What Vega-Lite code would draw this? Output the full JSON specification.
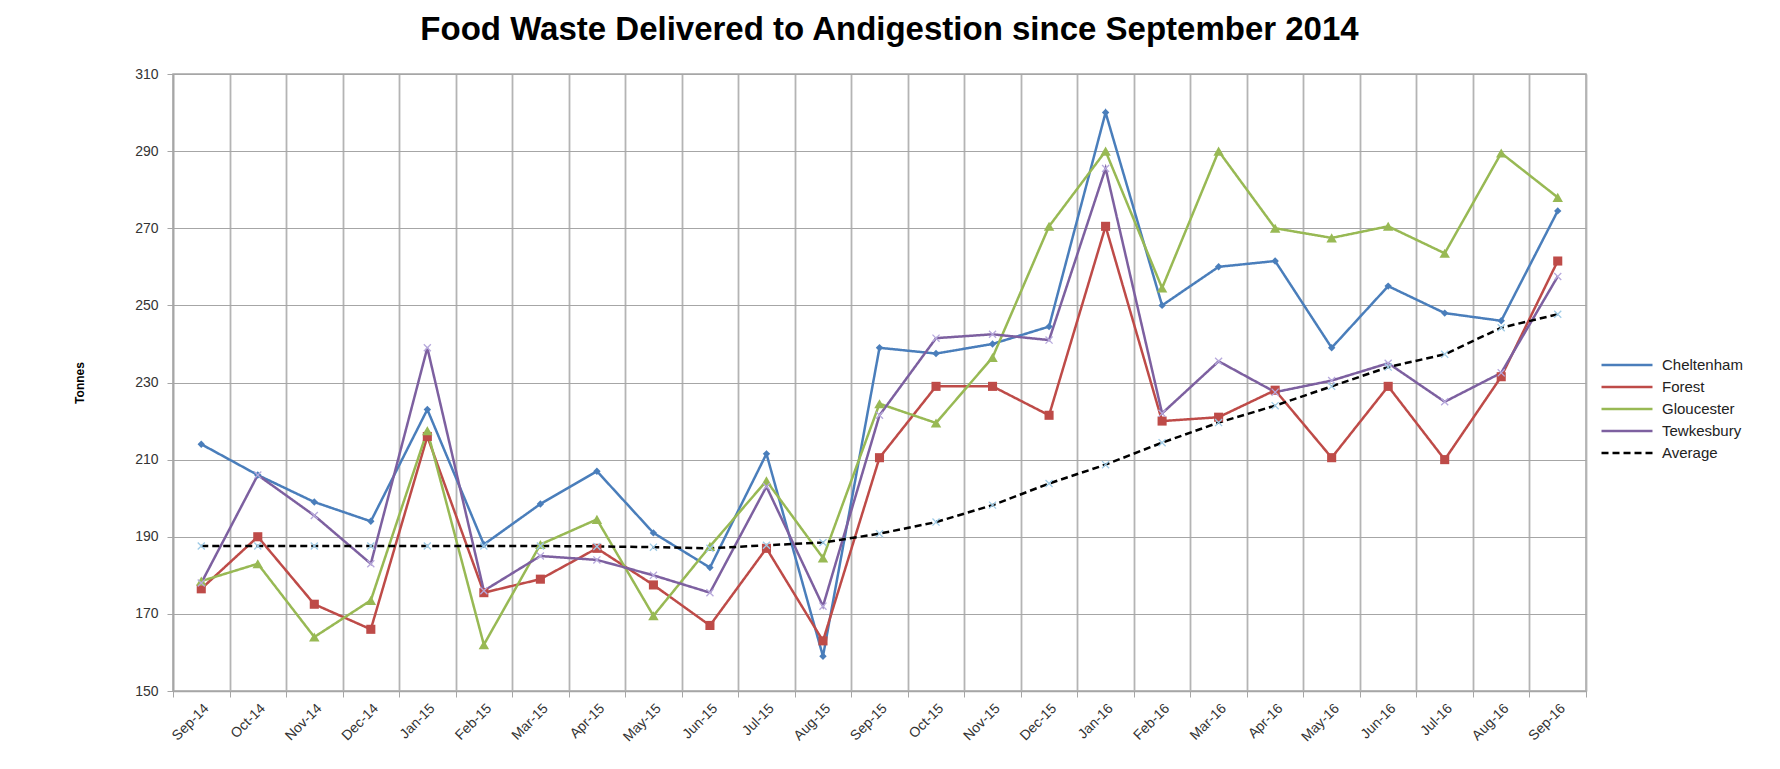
{
  "$schema": "https://vega.github.io/schema/vega-lite/v6.json",
  "width": 1413,
  "height": 617,
  "autosize": {"type": "none"},
  "padding": {"left": 173, "top": 74, "right": 194, "bottom": 78},
  "background": "white",
  "config": {"view": {"stroke": "#a6a6a6", "strokeWidth": 1.5}, "font": "Liberation Sans"},
  "title": {"text": "Food Waste Delivered to Andigestion since September 2014", "font": "Liberation Sans", "fontSize": 33, "fontWeight": "bold", "color": "#000000", "anchor": "middle", "offset": 20, "dx": 10},
  "data": {"values": [
    {"month": "Sep-14", "series": "Cheltenham", "tonnes": 214},
    {"month": "Oct-14", "series": "Cheltenham", "tonnes": 206},
    {"month": "Nov-14", "series": "Cheltenham", "tonnes": 199},
    {"month": "Dec-14", "series": "Cheltenham", "tonnes": 194},
    {"month": "Jan-15", "series": "Cheltenham", "tonnes": 223},
    {"month": "Feb-15", "series": "Cheltenham", "tonnes": 188},
    {"month": "Mar-15", "series": "Cheltenham", "tonnes": 198.5},
    {"month": "Apr-15", "series": "Cheltenham", "tonnes": 207},
    {"month": "May-15", "series": "Cheltenham", "tonnes": 191},
    {"month": "Jun-15", "series": "Cheltenham", "tonnes": 182},
    {"month": "Jul-15", "series": "Cheltenham", "tonnes": 211.5},
    {"month": "Aug-15", "series": "Cheltenham", "tonnes": 159},
    {"month": "Sep-15", "series": "Cheltenham", "tonnes": 239},
    {"month": "Oct-15", "series": "Cheltenham", "tonnes": 237.5},
    {"month": "Nov-15", "series": "Cheltenham", "tonnes": 240},
    {"month": "Dec-15", "series": "Cheltenham", "tonnes": 244.5},
    {"month": "Jan-16", "series": "Cheltenham", "tonnes": 300},
    {"month": "Feb-16", "series": "Cheltenham", "tonnes": 250},
    {"month": "Mar-16", "series": "Cheltenham", "tonnes": 260},
    {"month": "Apr-16", "series": "Cheltenham", "tonnes": 261.5},
    {"month": "May-16", "series": "Cheltenham", "tonnes": 239},
    {"month": "Jun-16", "series": "Cheltenham", "tonnes": 255},
    {"month": "Jul-16", "series": "Cheltenham", "tonnes": 248},
    {"month": "Aug-16", "series": "Cheltenham", "tonnes": 246},
    {"month": "Sep-16", "series": "Cheltenham", "tonnes": 274.5},
    {"month": "Sep-14", "series": "Forest", "tonnes": 176.5},
    {"month": "Oct-14", "series": "Forest", "tonnes": 190},
    {"month": "Nov-14", "series": "Forest", "tonnes": 172.5},
    {"month": "Dec-14", "series": "Forest", "tonnes": 166},
    {"month": "Jan-15", "series": "Forest", "tonnes": 216},
    {"month": "Feb-15", "series": "Forest", "tonnes": 175.5},
    {"month": "Mar-15", "series": "Forest", "tonnes": 179},
    {"month": "Apr-15", "series": "Forest", "tonnes": 187},
    {"month": "May-15", "series": "Forest", "tonnes": 177.5},
    {"month": "Jun-15", "series": "Forest", "tonnes": 167},
    {"month": "Jul-15", "series": "Forest", "tonnes": 187},
    {"month": "Aug-15", "series": "Forest", "tonnes": 163},
    {"month": "Sep-15", "series": "Forest", "tonnes": 210.5},
    {"month": "Oct-15", "series": "Forest", "tonnes": 229},
    {"month": "Nov-15", "series": "Forest", "tonnes": 229},
    {"month": "Dec-15", "series": "Forest", "tonnes": 221.5},
    {"month": "Jan-16", "series": "Forest", "tonnes": 270.5},
    {"month": "Feb-16", "series": "Forest", "tonnes": 220},
    {"month": "Mar-16", "series": "Forest", "tonnes": 221},
    {"month": "Apr-16", "series": "Forest", "tonnes": 228},
    {"month": "May-16", "series": "Forest", "tonnes": 210.5},
    {"month": "Jun-16", "series": "Forest", "tonnes": 229},
    {"month": "Jul-16", "series": "Forest", "tonnes": 210},
    {"month": "Aug-16", "series": "Forest", "tonnes": 231.5},
    {"month": "Sep-16", "series": "Forest", "tonnes": 261.5},
    {"month": "Sep-14", "series": "Gloucester", "tonnes": 178.5},
    {"month": "Oct-14", "series": "Gloucester", "tonnes": 183},
    {"month": "Nov-14", "series": "Gloucester", "tonnes": 164},
    {"month": "Dec-14", "series": "Gloucester", "tonnes": 173.5},
    {"month": "Jan-15", "series": "Gloucester", "tonnes": 217.5},
    {"month": "Feb-15", "series": "Gloucester", "tonnes": 162},
    {"month": "Mar-15", "series": "Gloucester", "tonnes": 188},
    {"month": "Apr-15", "series": "Gloucester", "tonnes": 194.5},
    {"month": "May-15", "series": "Gloucester", "tonnes": 169.5},
    {"month": "Jun-15", "series": "Gloucester", "tonnes": 187.5},
    {"month": "Jul-15", "series": "Gloucester", "tonnes": 204.5},
    {"month": "Aug-15", "series": "Gloucester", "tonnes": 184.5},
    {"month": "Sep-15", "series": "Gloucester", "tonnes": 224.5},
    {"month": "Oct-15", "series": "Gloucester", "tonnes": 219.5},
    {"month": "Nov-15", "series": "Gloucester", "tonnes": 236.5},
    {"month": "Dec-15", "series": "Gloucester", "tonnes": 270.5},
    {"month": "Jan-16", "series": "Gloucester", "tonnes": 290},
    {"month": "Feb-16", "series": "Gloucester", "tonnes": 254.5},
    {"month": "Mar-16", "series": "Gloucester", "tonnes": 290},
    {"month": "Apr-16", "series": "Gloucester", "tonnes": 270},
    {"month": "May-16", "series": "Gloucester", "tonnes": 267.5},
    {"month": "Jun-16", "series": "Gloucester", "tonnes": 270.5},
    {"month": "Jul-16", "series": "Gloucester", "tonnes": 263.5},
    {"month": "Aug-16", "series": "Gloucester", "tonnes": 289.5},
    {"month": "Sep-16", "series": "Gloucester", "tonnes": 278},
    {"month": "Sep-14", "series": "Tewkesbury", "tonnes": 178},
    {"month": "Oct-14", "series": "Tewkesbury", "tonnes": 206},
    {"month": "Nov-14", "series": "Tewkesbury", "tonnes": 195.5},
    {"month": "Dec-14", "series": "Tewkesbury", "tonnes": 183},
    {"month": "Jan-15", "series": "Tewkesbury", "tonnes": 239},
    {"month": "Feb-15", "series": "Tewkesbury", "tonnes": 176},
    {"month": "Mar-15", "series": "Tewkesbury", "tonnes": 185},
    {"month": "Apr-15", "series": "Tewkesbury", "tonnes": 184},
    {"month": "May-15", "series": "Tewkesbury", "tonnes": 180},
    {"month": "Jun-15", "series": "Tewkesbury", "tonnes": 175.5},
    {"month": "Jul-15", "series": "Tewkesbury", "tonnes": 203},
    {"month": "Aug-15", "series": "Tewkesbury", "tonnes": 172},
    {"month": "Sep-15", "series": "Tewkesbury", "tonnes": 221.5},
    {"month": "Oct-15", "series": "Tewkesbury", "tonnes": 241.5},
    {"month": "Nov-15", "series": "Tewkesbury", "tonnes": 242.5},
    {"month": "Dec-15", "series": "Tewkesbury", "tonnes": 241},
    {"month": "Jan-16", "series": "Tewkesbury", "tonnes": 285.5},
    {"month": "Feb-16", "series": "Tewkesbury", "tonnes": 222},
    {"month": "Mar-16", "series": "Tewkesbury", "tonnes": 235.5},
    {"month": "Apr-16", "series": "Tewkesbury", "tonnes": 227.5},
    {"month": "May-16", "series": "Tewkesbury", "tonnes": 230.5},
    {"month": "Jun-16", "series": "Tewkesbury", "tonnes": 235},
    {"month": "Jul-16", "series": "Tewkesbury", "tonnes": 225},
    {"month": "Aug-16", "series": "Tewkesbury", "tonnes": 232.5},
    {"month": "Sep-16", "series": "Tewkesbury", "tonnes": 257.5},
    {"month": "Sep-14", "series": "Average", "tonnes": 187.6},
    {"month": "Oct-14", "series": "Average", "tonnes": 187.6},
    {"month": "Nov-14", "series": "Average", "tonnes": 187.6},
    {"month": "Dec-14", "series": "Average", "tonnes": 187.6},
    {"month": "Jan-15", "series": "Average", "tonnes": 187.6},
    {"month": "Feb-15", "series": "Average", "tonnes": 187.6},
    {"month": "Mar-15", "series": "Average", "tonnes": 187.6},
    {"month": "Apr-15", "series": "Average", "tonnes": 187.5},
    {"month": "May-15", "series": "Average", "tonnes": 187.3},
    {"month": "Jun-15", "series": "Average", "tonnes": 187},
    {"month": "Jul-15", "series": "Average", "tonnes": 187.8},
    {"month": "Aug-15", "series": "Average", "tonnes": 188.5},
    {"month": "Sep-15", "series": "Average", "tonnes": 190.8},
    {"month": "Oct-15", "series": "Average", "tonnes": 193.8},
    {"month": "Nov-15", "series": "Average", "tonnes": 198.2},
    {"month": "Dec-15", "series": "Average", "tonnes": 203.8},
    {"month": "Jan-16", "series": "Average", "tonnes": 208.7},
    {"month": "Feb-16", "series": "Average", "tonnes": 214.4},
    {"month": "Mar-16", "series": "Average", "tonnes": 219.6},
    {"month": "Apr-16", "series": "Average", "tonnes": 224},
    {"month": "May-16", "series": "Average", "tonnes": 229},
    {"month": "Jun-16", "series": "Average", "tonnes": 234},
    {"month": "Jul-16", "series": "Average", "tonnes": 237.3},
    {"month": "Aug-16", "series": "Average", "tonnes": 244.2},
    {"month": "Sep-16", "series": "Average", "tonnes": 247.7}
  ]},
  "encoding": {
    "x": {
      "field": "month", "type": "ordinal", "sort": null, "bandPosition": 0.5,
      "scale": {"type": "band", "paddingInner": 0, "paddingOuter": 0},
      "axis": {
        "title": null, "tickBand": "extent", "labelAngle": -45, "labelFontSize": 14, "labelColor": "#333333",
        "labelPadding": 4, "tickSize": 6, "tickColor": "#a6a6a6", "domainColor": "#a6a6a6", "domainWidth": 1.5,
        "grid": true, "gridColor": "#b4b4b4", "gridWidth": 1.8
      }
    },
    "y": {
      "field": "tonnes", "type": "quantitative",
      "scale": {"domain": [150, 310], "nice": false, "zero": false},
      "axis": {
        "title": "Tonnes", "titleFontSize": 12, "titleFontWeight": "bold", "titleColor": "#000000", "titleX": -87,
        "values": [150, 170, 190, 210, 230, 250, 270, 290, 310],
        "labelFontSize": 14, "labelColor": "#333333", "labelPadding": 9, "tickSize": 6, "tickColor": "#a6a6a6",
        "domainColor": "#a6a6a6", "domainWidth": 1.5,
        "grid": true, "gridColor": "#a6a6a6", "gridWidth": 1.2
      }
    }
  },
  "layer": [
    {
      "mark": {"type": "line", "strokeWidth": 2.5},
      "encoding": {
        "color": {
          "field": "series", "type": "nominal",
          "scale": {"domain": ["Cheltenham", "Forest", "Gloucester", "Tewkesbury", "Average"], "range": ["#4A7EBB", "#BE4B48", "#98B954", "#7D60A0", "#000000"]},
          "legend": {"title": null, "orient": "none", "legendX": 1440, "legendY": 277, "symbolType": "M-2,0L2,0", "symbolSize": 650, "symbolStrokeWidth": 2.5, "labelFontSize": 15, "labelColor": "#222222", "rowPadding": -4, "labelOffset": 21, "padding": 0}
        },
        "strokeDash": {
          "field": "series", "type": "nominal",
          "scale": {"domain": ["Cheltenham", "Forest", "Gloucester", "Tewkesbury", "Average"], "range": [[1, 0], [1, 0], [1, 0], [1, 0], [7, 4]]},
          "legend": {"title": null, "orient": "none", "legendX": 1440, "legendY": 277, "symbolType": "M-2,0L2,0", "symbolSize": 650, "symbolStrokeWidth": 2.5, "labelFontSize": 15, "labelColor": "#222222", "rowPadding": -4, "labelOffset": 21, "padding": 0}
        }
      }
    },
    {
      "transform": [{"filter": {"field": "series", "oneOf": ["Cheltenham", "Forest", "Gloucester"]}}],
      "mark": {"type": "point", "filled": true, "opacity": 1},
      "encoding": {
        "color": {"field": "series", "type": "nominal"},
        "shape": {"field": "series", "type": "nominal", "scale": {"domain": ["Cheltenham", "Forest", "Gloucester"], "range": ["diamond", "square", "triangle-up"]}, "legend": null},
        "size": {"field": "series", "type": "nominal", "scale": {"domain": ["Cheltenham", "Forest", "Gloucester"], "range": [55, 110, 70]}, "legend": null}
      }
    },
    {
      "transform": [{"filter": {"field": "series", "oneOf": ["Tewkesbury", "Average"]}}],
      "mark": {"type": "point", "filled": false, "shape": "M-1,-1L1,1M-1,1L1,-1", "size": 50, "strokeWidth": 1.3, "opacity": 1},
      "encoding": {
        "stroke": {"field": "series", "type": "nominal", "scale": {"domain": ["Tewkesbury", "Average"], "range": ["#b7a9dc", "#9fcbe6"]}, "legend": null}
      }
    }
  ]
}
